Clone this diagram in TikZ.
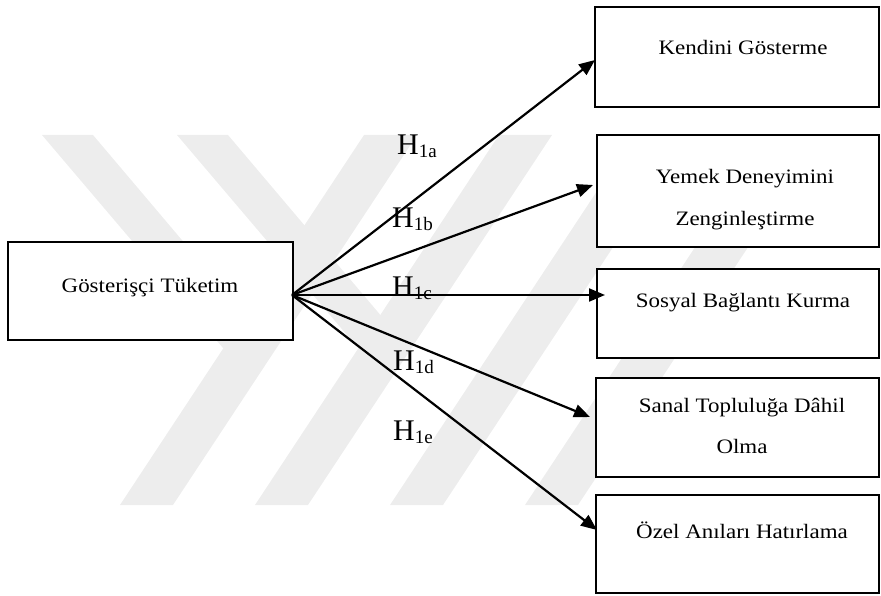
\documentclass[tikz,border=0pt]{standalone}
\usepackage{fontspec}
\setmainfont{Liberation Serif}
\newfontfamily\boxfont{Liberation Serif}[FakeStretch=1.12]
\usetikzlibrary{arrows.meta}
\begin{document}
\begin{tikzpicture}[x=1pt,y=-1pt,
  wm/.style={fill=black!7, draw=none},
  bx/.style={draw=black, line width=2.7pt, fill=white, rectangle, inner sep=0pt, outer sep=0pt},
  lbl/.style={font=\boxfont\fontsize{20.5}{24}\selectfont, anchor=base, inner sep=0pt},
  hyp/.style={font=\fontsize{30}{32}\selectfont, anchor=base west, inner sep=0pt},
  arr/.style={line width=2.2pt, -{Triangle[length=16pt,width=13pt]}}]
\useasboundingbox (0,0) rectangle (881,596);
% watermark
\foreach \k in {0,1,2,3}{
  \fill[wm] ({120+135*\k},505) -- ({173+135*\k},505) -- ({417+135*\k},135) -- ({364+135*\k},135) -- cycle;
}
\foreach \k in {0,1}{
  \fill[wm] ({42+135*\k},135) -- ({93+135*\k},135) -- ({275+135*\k},350) -- ({223+135*\k},348) -- cycle;
}
% boxes
\node[bx, minimum width=285pt, minimum height=98pt] (L) at (150.5,291) {};
\node[bx, minimum width=284pt, minimum height=100pt] (B1) at (737,57) {};
\node[bx, minimum width=282pt, minimum height=112pt] (B2) at (738,191) {};
\node[bx, minimum width=282pt, minimum height=89pt] (B3) at (738,313.5) {};
\node[bx, minimum width=283pt, minimum height=99pt] (B4) at (737.5,427.5) {};
\node[bx, minimum width=283pt, minimum height=98pt] (B5) at (737.5,544) {};
% texts
\node[lbl] (tL) at (150,292) {Gösterişçi Tüketim};
\node[lbl] (t1) at (743,55) {Kendini Gösterme};
\node[lbl] (t2a) at (745,184) {Yemek Deneyimini};
\node[lbl] (t2b) at (745,226) {Zenginleştirme};
\node[lbl] (t3) at (743,307) {Sosyal Bağlantı Kurma};
\node[lbl] (t4a) at (742,412) {Sanal Topluluğa Dâhil};
\node[lbl] (t4b) at (742,453) {Olma};
\node[lbl] (t5) at (742,538) {Özel Anıları Hatırlama};
% arrows
\coordinate (o) at (292,295);
\coordinate (ea) at (595,60);
\coordinate (eb) at (593,185);
\coordinate (ec) at (605,295);
\coordinate (ed) at (590,417);
\coordinate (ee) at (597,530);
\draw[arr] (o) -- (ea);
\draw[arr] (o) -- (eb);
\draw[arr] (o) -- (ec);
\draw[arr] (o) -- (ed);
\draw[arr] (o) -- (ee);
% hypothesis labels
\node[hyp] (ha) at (397,155) {H\raisebox{-3pt}{\fontsize{19}{20}\selectfont 1a}};
\node[hyp] (hb) at (392,228) {H\raisebox{-3pt}{\fontsize{19}{20}\selectfont 1b}};
\node[hyp] (hc) at (392,296) {H\raisebox{-3pt}{\fontsize{19}{20}\selectfont 1c}};
\node[hyp] (hd) at (393,370) {H\raisebox{-3pt}{\fontsize{19}{20}\selectfont 1d}};
\node[hyp] (he) at (393,440) {H\raisebox{-3pt}{\fontsize{19}{20}\selectfont 1e}};
\end{tikzpicture}
\end{document}
